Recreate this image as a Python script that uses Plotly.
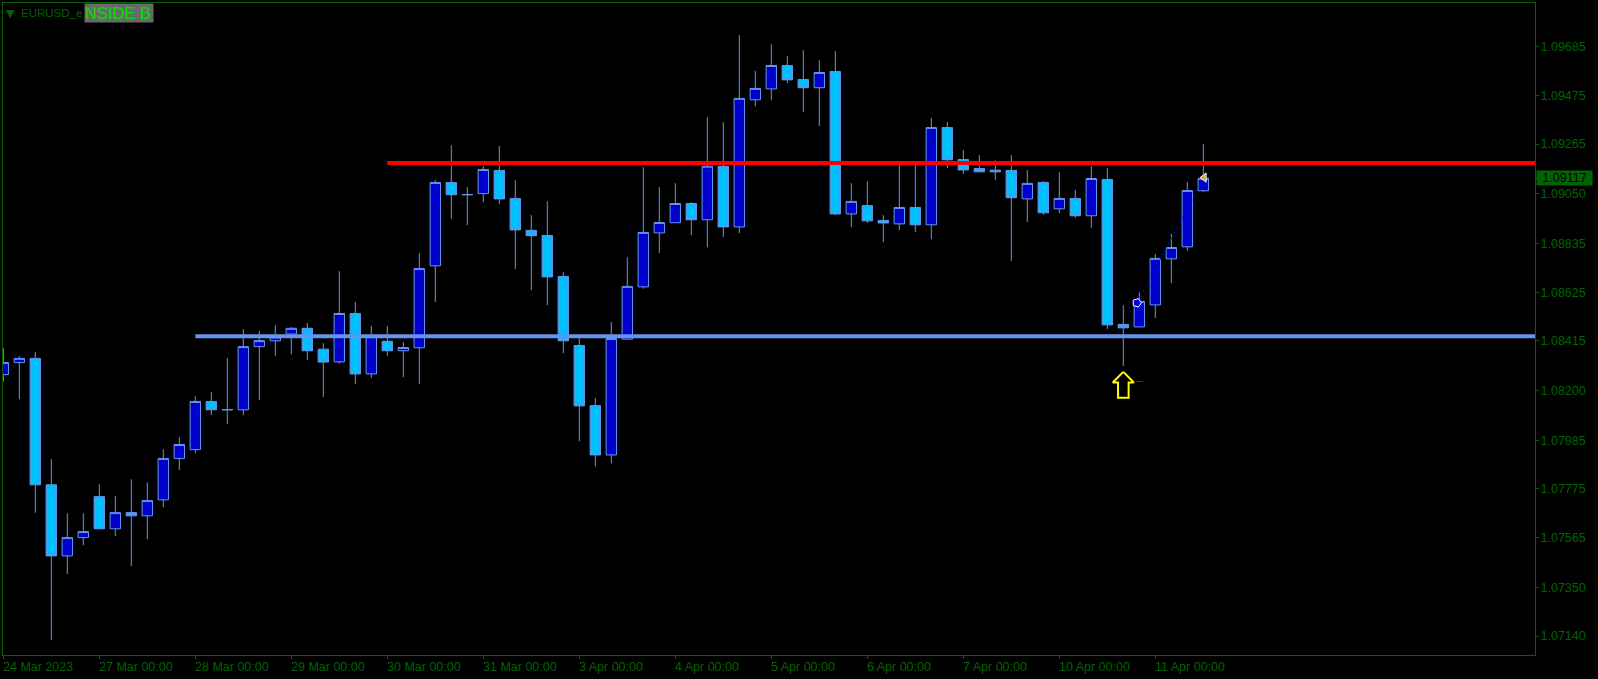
import plotly.graph_objects as go

# OHLC of the 4H bars
opens = [1.08269,1.08321,1.08339,1.07793,1.07486,1.07565,1.07742,1.07603,1.07673,1.07659,
         1.07728,1.07907,1.07945,1.08153,1.08118,1.08117,1.08390,1.08415,1.08444,1.08469,
         1.08379,1.08324,1.08533,1.08272,1.08413,1.08372,1.08385,1.08739,1.09099,1.09047,
         1.09051,1.09151,1.09030,1.08892,1.08870,1.08693,1.08395,1.08135,1.07922,1.08422,
         1.08648,1.08881,1.08925,1.09008,1.08938,1.09169,1.08907,1.09456,1.09503,1.09604,
         1.09544,1.09508,1.09578,1.08963,1.08999,1.08935,1.08920,1.08991,1.08916,1.09336,
         1.09198,1.09159,1.09152,1.09151,1.09028,1.09099,1.08985,1.09030,1.08955,1.09112,
         1.08486,1.08475,1.08570,1.08769,1.08821,1.09063]
highs = [1.08383,1.08349,1.08366,1.07904,1.07670,1.07670,1.07796,1.07744,1.07817,1.07803,
         1.07947,1.07999,1.08176,1.08193,1.08340,1.08466,1.08457,1.08483,1.08474,1.08492,
         1.08405,1.08716,1.08582,1.08479,1.08478,1.08409,1.08794,1.09109,1.09260,1.09079,
         1.09169,1.09256,1.09109,1.08958,1.09018,1.08712,1.08436,1.08167,1.08496,1.08776,
         1.09165,1.09079,1.09096,1.09014,1.09381,1.09359,1.09735,1.09580,1.09696,1.09644,
         1.09670,1.09627,1.09666,1.09096,1.09104,1.08958,1.09184,1.09184,1.09377,1.09359,
         1.09238,1.09217,1.09195,1.09217,1.09152,1.09105,1.09144,1.09066,1.09169,1.09161,
         1.08569,1.08625,1.08789,1.08876,1.09100,1.09265]
lows = [1.08238,1.08163,1.07672,1.07122,1.07407,1.07532,1.07603,1.07571,1.07441,1.07558,
        1.07696,1.07856,1.07930,1.08094,1.08055,1.08094,1.08159,1.08349,1.08357,1.08331,
        1.08172,1.08316,1.08229,1.08255,1.08349,1.08258,1.08228,1.08582,1.08941,1.08915,
        1.09014,1.09005,1.08725,1.08634,1.08569,1.08362,1.07981,1.07873,1.07886,1.08422,
        1.08640,1.08794,1.08925,1.08871,1.08819,1.08863,1.08880,1.09428,1.09454,1.09528,
        1.09403,1.09342,1.08958,1.08906,1.08924,1.08841,1.08893,1.08884,1.08854,1.09161,
        1.09135,1.09145,1.09109,1.08759,1.08928,1.08959,1.08966,1.08946,1.08903,1.08465,
        1.08305,1.08475,1.08513,1.08664,1.08804,1.09057]
closes = [1.08321,1.08339,1.07793,1.07486,1.07565,1.07591,1.07603,1.07673,1.07659,1.07725,
          1.07907,1.07967,1.08153,1.08117,1.08117,1.08390,1.08416,1.08432,1.08469,1.08372,
          1.08323,1.08533,1.08272,1.08433,1.08372,1.08386,1.08727,1.09099,1.09046,1.09046,
          1.09155,1.09028,1.08894,1.08869,1.08691,1.08415,1.08134,1.07922,1.08425,1.08650,
          1.08883,1.08926,1.09008,1.08938,1.09169,1.08907,1.09462,1.09505,1.09604,1.09542,
          1.09508,1.09574,1.08963,1.09017,1.08933,1.08924,1.08991,1.08916,1.09336,1.09197,
          1.09153,1.09145,1.09145,1.09033,1.09095,1.08968,1.09030,1.08955,1.09116,1.08484,
          1.08471,1.08585,1.08771,1.08818,1.09064,1.09117]
bars = list(range(len(opens)))

date_bars = [0, 6, 12, 18, 24, 30, 36, 42, 48, 54, 60, 66, 72]
date_labels = ["24 Mar 2023", "27 Mar 00:00", "28 Mar 00:00", "29 Mar 00:00", "30 Mar 00:00",
               "31 Mar 00:00", "3 Apr 00:00", "4 Apr 00:00", "5 Apr 00:00", "6 Apr 00:00",
               "7 Apr 00:00", "10 Apr 00:00", "11 Apr 00:00"]
price_ticks = [1.09685, 1.09475, 1.09265, 1.09050, 1.08835, 1.08625, 1.08415,
               1.08200, 1.07985, 1.07775, 1.07565, 1.07350, 1.07140]
last_price = 1.09117

resistance_level = 1.09183
resistance_bars = [24, 96]
support_level = 1.08435
support_bars = [12, 96]

arrow_x = [70, 70.66, 70.33, 70.33, 69.67, 69.67, 69.34, 70]
arrow_y = [1.08281, 1.08235, 1.08235, 1.08169, 1.08169, 1.08235, 1.08235, 1.08281]
dash_x = [70.8, 71.23]
dash_y = [1.08239, 1.08239]
trade_x = [70.85, 75.05]
trade_y = [1.08579, 1.09120]

GREEN = "#006400"
FONT = "Liberation Sans"

fig = go.Figure()
fig.add_trace(go.Candlestick(
    x=bars, open=opens, high=highs, low=lows, close=closes, whiskerwidth=0,
    increasing=dict(fillcolor="#0000CD", line=dict(color="#6495ED", width=1)),
    decreasing=dict(fillcolor="#00BFFF", line=dict(color="#6495ED", width=1)),
))
fig.add_trace(go.Scatter(x=support_bars, y=[support_level] * 2, mode="lines",
                         line=dict(color="#6495ED", width=4)))
fig.add_trace(go.Scatter(x=resistance_bars, y=[resistance_level] * 2, mode="lines",
                         line=dict(color="#FF0000", width=4)))
fig.add_trace(go.Scatter(x=trade_x, y=trade_y, mode="lines",
                         line=dict(color="#0000FF", width=1, dash="dot")))
fig.add_trace(go.Scatter(x=trade_x[:1], y=trade_y[:1], mode="markers",
                         marker=dict(symbol="pentagon", angle=90, size=9, color="#0000FF",
                                     line=dict(color="#FFFFFF", width=1))))
fig.add_trace(go.Scatter(x=trade_x[1:], y=trade_y[1:], mode="markers",
                         marker=dict(symbol="triangle-left", size=8, color="#DAA520",
                                     line=dict(color="#FFFFFF", width=1))))
fig.add_trace(go.Scatter(x=arrow_x, y=arrow_y, mode="lines",
                         line=dict(color="#FFFF00", width=2)))
fig.add_trace(go.Scatter(x=dash_x, y=dash_y, mode="lines",
                         line=dict(color="#C00000", width=1)))

date_annotations = [
    dict(xref="x", yref="paper", x=b, y=0, xanchor="left", yanchor="middle",
         xshift=-1.5, yshift=-11.5, text=t, showarrow=False, borderpad=0,
         font=dict(family=FONT, size=12.5, color=GREEN))
    for b, t in zip(date_bars, date_labels)
]

fig.update_layout(
    width=1598, height=679, showlegend=False, boxgap=0.35, boxgroupgap=0,
    paper_bgcolor="#000000", plot_bgcolor="#000000",
    margin=dict(l=3, r=63, t=3, b=24, pad=0),
    font=dict(family=FONT, size=12.5, color=GREEN),
    xaxis=dict(range=[-0.02, 95.73], tickvals=date_bars, showticklabels=False,
               rangeslider=dict(visible=False), showgrid=False, zeroline=False,
               showline=True, linecolor=GREEN, linewidth=1, mirror=True,
               ticks="outside", ticklen=3, tickcolor=GREEN),
    yaxis=dict(range=[1.07058, 1.09874], side="right",
               tickvals=price_ticks + [last_price],
               ticktext=[f"{p:.5f}" for p in price_ticks] + [""],
               showgrid=False, zeroline=False,
               showline=True, linecolor=GREEN, linewidth=1, mirror=True,
               ticks="outside", ticklen=3, tickcolor=GREEN, ticklabelstandoff=-1,
               tickfont=dict(family=FONT, size=12.5, color=GREEN)),
    annotations=date_annotations + [
        dict(xref="paper", yref="y", x=1, y=last_price, xanchor="left", yanchor="middle",
             xshift=1, text=f"{last_price:.5f}", showarrow=False, bgcolor=GREEN,
             width=55, height=14, borderpad=0,
             font=dict(family=FONT, size=12.5, color="#000000")),
        dict(xref="paper", yref="paper", x=0, y=1, xanchor="left", yanchor="top",
             xshift=2, yshift=-3, text="▼", showarrow=False, borderpad=0,
             font=dict(family="DejaVu Sans", size=11, color=GREEN)),
        dict(xref="paper", yref="paper", x=0, y=1, xanchor="left", yanchor="top",
             xshift=17, yshift=-3, text="EURUSD_e", showarrow=False, borderpad=0,
             font=dict(family=FONT, size=11.5, color=GREEN)),
        dict(xref="paper", yref="paper", x=0, y=1, xanchor="left", yanchor="top",
             xshift=80.5, yshift=0, text="NSIDE B", showarrow=False, bgcolor="#696969",
             width=68, height=18, borderpad=0, align="left",
             font=dict(family=FONT, size=16.5, color="#00E000")),
    ],
)
fig.write_html("out.html", config=dict(displayModeBar=False),
               post_script="document.body.style.margin='0';document.body.style.background='#000';")
